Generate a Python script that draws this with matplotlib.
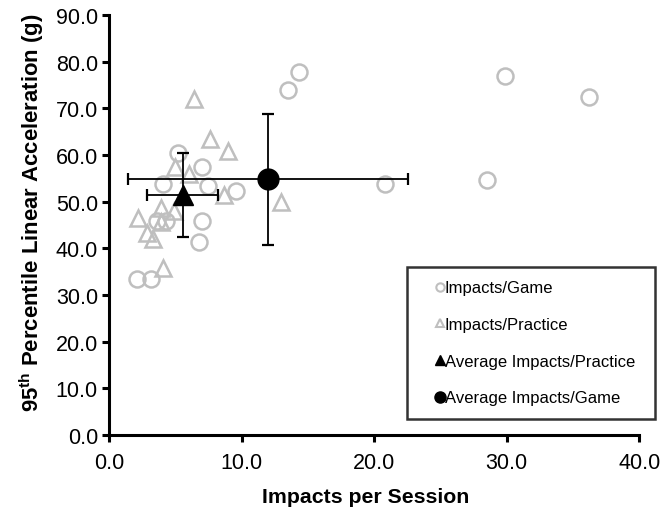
import numpy as np
import matplotlib.pyplot as plt
from matplotlib.lines import Line2D

plt.rcParams['font.family'] = ['Liberation Sans', 'DejaVu Sans']
plt.rcParams['mathtext.fontset'] = 'custom'
plt.rcParams['mathtext.rm'] = 'Liberation Sans:bold'
plt.rcParams['mathtext.bf'] = 'Liberation Sans:bold'

# impacts per game session vs 95th percentile linear acceleration
game_x = [14.3, 13.5, 29.9, 36.2, 20.8, 28.5, 5.2, 7.0, 4.1, 7.5, 9.6,
          7.0, 6.8, 3.6, 4.3, 2.1, 3.2]
game_y = [77.8, 74.0, 76.9, 72.5, 53.8, 54.6, 60.5, 57.5, 53.8, 53.4, 52.3,
          45.9, 41.3, 45.9, 45.9, 33.5, 33.5]

# practice sessions
prac_x = [6.4, 7.6, 9.0, 5.0, 6.0, 8.7, 13.0, 2.2, 3.9, 4.9, 3.95, 2.9, 3.3, 4.1]
prac_y = [72.0, 63.4, 60.9, 57.4, 55.9, 51.5, 50.0, 46.6, 48.7, 48.0, 45.6, 43.2, 42.0, 35.8]

# averages with standard deviations
avg_game = (12.0, 54.8)
avg_game_err = (10.55, 14.0)
avg_prac = (5.55, 51.4)
avg_prac_err = (2.7, 9.0)

gray = '#bfbfbf'

fig = plt.figure(figsize=(6.61, 5.10), dpi=100)
ax = fig.add_axes([0.165, 0.145, 0.802, 0.8235])

ax.plot(game_x, game_y, 'o', ms=11.5, mfc='none', mec=gray, mew=1.8, zorder=2)
ax.plot(prac_x, prac_y, '^', ms=12, mfc='none', mec=gray, mew=1.8, zorder=2)

ax.errorbar(avg_game[0], avg_game[1], xerr=avg_game_err[0], yerr=avg_game_err[1],
            fmt='o', ms=15, color='black', ecolor='black', elinewidth=1.3,
            capsize=4.5, capthick=1.6, zorder=3)
ax.errorbar(avg_prac[0], avg_prac[1], xerr=avg_prac_err[0], yerr=avg_prac_err[1],
            fmt='^', ms=15, color='black', ecolor='black', elinewidth=1.3,
            capsize=4.5, capthick=1.6, zorder=3)

ax.set_xlim(0, 40)
ax.set_ylim(0, 90)
ax.set_xticks(np.arange(0, 41, 10))
ax.set_yticks(np.arange(0, 91, 10))
ax.xaxis.set_major_formatter(plt.FormatStrFormatter('%.1f'))
ax.yaxis.set_major_formatter(plt.FormatStrFormatter('%.1f'))

for s in ['top', 'right']:
    ax.spines[s].set_visible(False)
for s in ['left', 'bottom']:
    ax.spines[s].set_linewidth(2.2)
ax.tick_params(axis='both', direction='out', length=5, width=2.2,
               labelsize=15.5, colors='black')
ax.tick_params(axis='x', pad=7)
ax.tick_params(axis='y', pad=3)

ax.set_xlabel('Impacts per Session', fontsize=15.3, fontweight='bold', labelpad=10)
ax.set_ylabel(r'95$^{\mathrm{th}}$ Percentile Linear Acceleration (g)',
              fontsize=15.9, fontweight='bold', labelpad=7)
ax.xaxis.label.set_x(0.485)
ax.yaxis.label.set_y(0.533)

handles = [
    Line2D([], [], ls='none', marker='o', ms=6, mfc='none', mec=gray, mew=1.5),
    Line2D([], [], ls='none', marker='^', ms=6, mfc='none', mec=gray, mew=1.5),
    Line2D([], [], ls='none', marker='^', ms=7, color='black'),
    Line2D([], [], ls='none', marker='o', ms=8, color='black'),
]
labels = ['Impacts/Game', 'Impacts/Practice', 'Average Impacts/Practice',
          'Average Impacts/Game']
leg = ax.legend(handles, labels, loc='upper left', mode='expand',
                bbox_to_anchor=(0.562, 0.4, 0.468, 0.0), fontsize=12,
                frameon=True, fancybox=False, borderpad=0.8,
                handlelength=2.36, handletextpad=-0.88, labelspacing=1.3,
                borderaxespad=0)
leg.get_frame().set_edgecolor('black')
leg.get_frame().set_linewidth(1.8)
leg.set_clip_on(False)

fig.savefig('out.png', dpi=100)
